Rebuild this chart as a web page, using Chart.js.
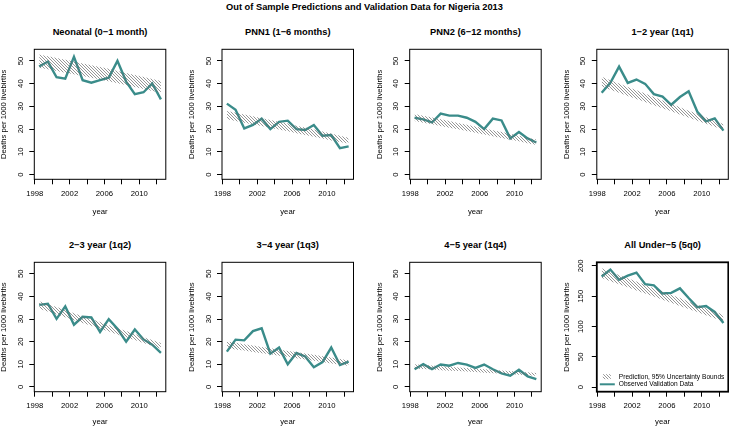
<!DOCTYPE html>
<html>
<head>
<meta charset="utf-8">
<script src="https://cdn.jsdelivr.net/npm/chart.js@4/dist/chart.umd.min.js"></script>
<style>
html, body { margin: 0; padding: 0; background: #fff; }
body { width: 729px; height: 428px; position: relative; overflow: hidden; font-family: "Liberation Sans", Arial, Helvetica, sans-serif; }
.main-title { position: absolute; left: 0; width: 729px; top: 1px; text-align: center; font-weight: bold; font-size: 9.3px; line-height: 12px; }
.panel-title { position: absolute; text-align: center; font-weight: bold; font-size: 9.3px; line-height: 12px; white-space: nowrap; }
canvas { position: absolute; }
</style>
</head>
<body>
<div class="main-title">Out of Sample Predictions and Validation Data for Nigeria 2013</div>
<script>
// data (deaths per 1000 livebirths)
const years = [1998.5, 1999.5, 2000.5, 2001.5, 2002.5, 2003.5, 2004.5, 2005.5, 2006.5, 2007.5, 2008.5, 2009.5, 2010.5, 2011.5, 2012.5];
const xTickLabels = [1998, 2002, 2006, 2010];
const panelTitles = ['Neonatal (0\u22121 month)', 'PNN1 (1\u22126 months)', 'PNN2 (6\u221212 months)', '1\u22122 year (1q1)',
                     '2\u22123 year (1q2)', '3\u22124 year (1q3)', '4\u22125 year (1q4)', 'All Under\u22125 (5q0)'];
const legendLabels = ['Prediction, 95% Uncertainty Bounds', 'Observed Validation Data'];

const neoObs = [47.5, 49.7, 42.8, 42.2, 51.8, 41.5, 40.4, 41.5, 42.6, 50.0, 40.9, 35.4, 36.2, 40.1, 33.1];
const neoHi  = [52.8, 52.0, 51.3, 50.5, 49.7, 48.9, 48.1, 47.3, 46.5, 45.6, 44.7, 43.8, 42.9, 42.0, 41.2];
const neoLo  = [47.0, 46.3, 45.5, 44.8, 44.1, 43.3, 42.6, 41.8, 41.0, 40.2, 39.4, 38.5, 37.6, 36.8, 36.0];

const pnn1Obs = [31.2, 28.5, 20.3, 21.8, 24.6, 20.0, 23.2, 23.7, 20.0, 19.6, 21.8, 17.1, 17.4, 11.6, 12.4];
const pnn1Hi  = [28.0, 27.2, 26.4, 25.6, 24.8, 24.0, 23.2, 22.4, 21.5, 20.7, 19.8, 18.9, 18.0, 17.1, 16.2];
const pnn1Lo  = [24.3, 23.6, 22.8, 22.0, 21.3, 20.5, 19.8, 19.0, 18.2, 17.4, 16.6, 15.8, 15.0, 14.3, 13.6];

const pnn2Obs = [25.0, 24.3, 22.9, 26.8, 25.9, 25.9, 25.0, 23.2, 20.0, 24.6, 23.8, 15.9, 18.7, 15.9, 14.1];
const pnn2Hi  = [26.6, 25.9, 25.1, 24.3, 23.5, 22.7, 21.9, 21.1, 20.3, 19.5, 18.7, 17.9, 17.1, 16.2, 15.4];
const pnn2Lo  = [23.5, 22.8, 22.1, 21.4, 20.6, 19.9, 19.1, 18.4, 17.6, 16.8, 16.1, 15.3, 14.6, 13.8, 13.0];

const q1Obs = [36.0, 40.4, 47.5, 40.3, 41.8, 39.9, 35.4, 34.3, 30.7, 34.1, 36.6, 27.6, 23.4, 24.7, 19.3];
const q1Hi  = [43.0, 41.5, 40.0, 38.5, 37.1, 35.6, 34.1, 32.6, 31.1, 29.6, 28.1, 26.7, 25.2, 23.7, 22.2];
const q1Lo  = [38.7, 37.3, 36.0, 34.6, 33.2, 31.9, 30.5, 29.2, 27.8, 26.4, 25.1, 23.7, 22.3, 21.0, 19.6];

const q2Obs = [36.3, 36.8, 30.1, 35.6, 27.5, 31.0, 30.7, 24.3, 30.0, 25.7, 20.0, 25.4, 21.0, 18.7, 15.1];
const q2Hi  = [37.9, 36.6, 35.3, 34.0, 32.6, 31.3, 30.0, 28.7, 27.3, 26.0, 24.7, 23.4, 22.0, 20.7, 19.4];
const q2Lo  = [34.6, 33.3, 32.1, 30.8, 29.5, 28.3, 27.0, 25.8, 24.5, 23.2, 22.0, 20.7, 19.4, 18.2, 16.9];

const q3Obs = [15.6, 20.9, 20.6, 24.7, 25.9, 14.7, 17.4, 10.0, 15.0, 13.5, 8.7, 11.0, 17.4, 9.7, 11.2];
const q3Hi  = [20.1, 19.5, 18.9, 18.3, 17.7, 17.1, 16.5, 15.9, 15.4, 14.8, 14.2, 13.6, 13.0, 12.4, 11.8];
const q3Lo  = [17.2, 16.6, 16.1, 15.5, 14.9, 14.4, 13.8, 13.3, 12.7, 12.1, 11.6, 11.0, 10.4, 9.9, 9.3];

const q4Obs = [7.8, 10.1, 7.9, 9.9, 9.4, 10.6, 9.9, 8.4, 9.9, 7.8, 6.0, 5.0, 7.6, 4.7, 3.5];
const q4Hi  = [10.0, 9.7, 9.5, 9.2, 8.9, 8.6, 8.4, 8.1, 7.8, 7.6, 7.3, 7.0, 6.7, 6.5, 6.2];
const q4Lo  = [8.1, 7.9, 7.7, 7.4, 7.2, 7.0, 6.8, 6.6, 6.3, 6.1, 5.9, 5.7, 5.4, 5.2, 5.0];

const u5Obs = [182.5, 194.0, 177.0, 184.0, 189.0, 170.0, 168.0, 154.5, 155.6, 163.0, 147.0, 132.0, 134.0, 124.0, 105.8];
const u5Hi  = [196.0, 190.5, 185.1, 179.6, 174.2, 168.7, 163.2, 157.8, 152.3, 146.9, 141.4, 135.9, 130.5, 125.0, 119.5];
const u5Lo  = [180.0, 174.9, 169.8, 164.7, 159.6, 154.5, 149.4, 144.3, 139.2, 134.1, 129.0, 123.9, 118.8, 113.6, 108.5];

const panels = [
    [neoObs, neoHi, neoLo], [pnn1Obs, pnn1Hi, pnn1Lo], [pnn2Obs, pnn2Hi, pnn2Lo], [q1Obs, q1Hi, q1Lo],
    [q2Obs, q2Hi, q2Lo], [q3Obs, q3Hi, q3Lo], [q4Obs, q4Hi, q4Lo], [u5Obs, u5Hi, u5Lo]
];

// layout (px)
const colLeft = [34.3, 222, 409.7, 596.8];
const boxW = 131.5;
const rowTop = [49.3, 262.3];
const rowBottom = [179.3, 391.7];
const yearOffset = [32.4, 30.6];
const titleCenter = [32.3, 245];
const lineColor = '#3a8c8a';
const fontFam = '"Liberation Sans", Arial, Helvetica, sans-serif';
const axisFont = { family: fontFam, size: 7.7 };

// hatch pattern for prediction band
function makeHatch() {
    const s = 3;
    const c = document.createElement('canvas');
    c.width = s; c.height = s;
    const g = c.getContext('2d');
    g.strokeStyle = '#6a6a6a';
    g.lineWidth = 0.7;
    g.beginPath();
    g.moveTo(-1, -1); g.lineTo(s + 1, s + 1);
    g.moveTo(s - 1, -1); g.lineTo(s + 1, 1);
    g.moveTo(-1, s - 1); g.lineTo(1, s + 1);
    g.stroke();
    return g.createPattern(c, 'repeat');
}
const hatch = makeHatch();

// box around plot region
const boxPlugin = {
    id: 'plotBox',
    afterDraw(chart, args, opts) {
        const { ctx, chartArea: a } = chart;
        ctx.save();
        ctx.strokeStyle = '#000';
        ctx.lineWidth = opts.width || 1;
        ctx.strokeRect(a.left, a.top, a.right - a.left, a.bottom - a.top);
        ctx.restore();
    }
};

// legend inside bottom-left of the last panel
const legendPlugin = {
    id: 'bandLegend',
    afterDraw(chart, args, opts) {
        if (!opts.labels) return;
        const { ctx, chartArea: a } = chart;
        const x0 = a.left, yb = a.bottom;
        ctx.save();
        ctx.fillStyle = hatch;
        ctx.fillRect(x0 + 6, yb - 17.5, 8, 5);
        ctx.strokeStyle = lineColor;
        ctx.lineWidth = 2;
        ctx.beginPath();
        ctx.moveTo(x0 + 3, yb - 7.4);
        ctx.lineTo(x0 + 18, yb - 7.4);
        ctx.stroke();
        ctx.fillStyle = '#000';
        ctx.font = '6.6px ' + fontFam;
        ctx.textBaseline = 'middle';
        ctx.textAlign = 'left';
        ctx.fillText(opts.labels[0], x0 + 22, yb - 15);
        ctx.fillText(opts.labels[1], x0 + 22, yb - 7.4);
        ctx.restore();
    }
};

panels.forEach((p, i) => {
    const col = i % 4, row = Math.floor(i / 4);
    const isLast = i === 7;
    const boxH = rowBottom[row] - rowTop[row];

    const L = Math.floor(colLeft[col] - 40);
    const wy = colLeft[col] - L;
    const W = Math.ceil(wy + boxW + 4);
    const pr = W - wy - boxW;
    const T = Math.floor(rowTop[row] - 10);
    const pt = rowTop[row] - T;
    const H = Math.ceil(pt + boxH + 38);
    const hx = H - pt - boxH;
    const lh = axisFont.size * 1.2;
    const yTitlePad = (colLeft[col] - 30.3) - L - lh / 2;
    const xTitlePad = (T + H) - (rowBottom[row] + yearOffset[row]) - lh / 2;

    const title = document.createElement('div');
    title.className = 'panel-title';
    title.style.left = colLeft[col] + 'px';
    title.style.width = boxW + 'px';
    title.style.top = (titleCenter[row] - 6) + 'px';
    title.textContent = panelTitles[i];
    document.body.appendChild(title);

    const cv = document.createElement('canvas');
    cv.width = W; cv.height = H;
    cv.style.left = L + 'px';
    cv.style.top = T + 'px';
    cv.style.width = W + 'px';
    cv.style.height = H + 'px';
    document.body.appendChild(cv);

    new Chart(cv.getContext('2d'), {
        type: 'line',
        data: {
            datasets: [
                { data: years.map((x, k) => ({ x, y: p[1][k] })), borderWidth: 0, pointRadius: 0, fill: false },
                { data: years.map((x, k) => ({ x, y: p[2][k] })), borderWidth: 0, pointRadius: 0, fill: '-1', backgroundColor: hatch },
                { data: years.map((x, k) => ({ x, y: p[0][k] })), borderColor: lineColor, borderWidth: 2.4, pointRadius: 0, tension: 0, fill: false }
            ]
        },
        options: {
            responsive: false,
            animation: false,
            devicePixelRatio: 1,
            layout: { padding: { left: 0, top: pt, right: pr, bottom: 0 } },
            plugins: {
                legend: { display: false },
                tooltip: { enabled: false },
                plotBox: { width: isLast ? 1.8 : 1 },
                bandLegend: { labels: isLast ? legendLabels : null }
            },
            scales: {
                x: {
                    type: 'linear',
                    min: 1997.94,
                    max: 2013.06,
                    border: { display: false },
                    grid: { drawOnChartArea: false, drawTicks: true, tickLength: 5, color: '#000', lineWidth: 1 },
                    ticks: {
                        stepSize: 2, includeBounds: false, autoSkip: false, maxRotation: 0, minRotation: 0,
                        padding: 4.8, color: '#000', font: axisFont,
                        callback: v => xTickLabels.includes(v) ? String(v) : ''
                    },
                    title: { display: true, text: 'year', color: '#000', font: axisFont, padding: { top: 0, bottom: xTitlePad } },
                    afterFit(s) { s.height = hx; }
                },
                y: {
                    min: isLast ? -7.5 : -2.1,
                    max: isLast ? 206 : 55.1,
                    border: { display: false },
                    grid: { drawOnChartArea: false, drawTicks: true, tickLength: 5, color: '#000', lineWidth: 1 },
                    ticks: {
                        stepSize: isLast ? 50 : 10, includeBounds: false, autoSkip: false,
                        minRotation: 90, maxRotation: 90, crossAlign: 'center',
                        padding: 4.3, color: '#000', font: axisFont
                    },
                    title: { display: true, text: 'Deaths per 1000 livebirths', color: '#000', font: axisFont, padding: { top: yTitlePad, bottom: 0 } },
                    afterFit(s) { s.width = wy; }
                }
            }
        },
        plugins: [boxPlugin, legendPlugin]
    });
});
</script>
</body>
</html>
